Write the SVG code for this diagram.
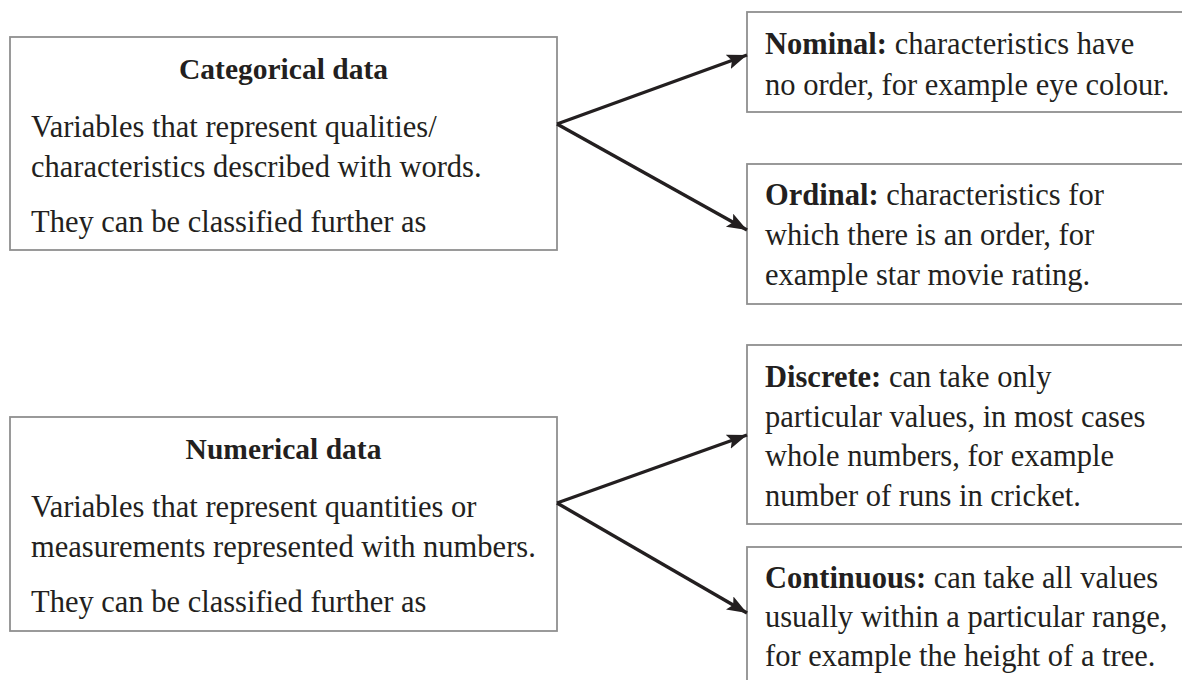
<svg xmlns="http://www.w3.org/2000/svg" width="1182" height="680" viewBox="0 0 1182 680">
<style>
.box{fill:#fff;stroke:#8f8f8f;stroke-width:1.8}
text{font-family:"Liberation Serif","Times New Roman",serif;font-size:30.5px;fill:#231f20}
.title{font-weight:bold;text-anchor:middle;font-size:29.5px}
.b{font-weight:bold}
.conn{fill:none;stroke:#231f20;stroke-width:3.4;stroke-linecap:butt}
</style>
<defs>
<marker id="ah" markerUnits="userSpaceOnUse" markerWidth="22" markerHeight="16" refX="20" refY="7.5" orient="auto">
<path d="M0,0 L20,7.5 L0,15 L4,7.5 z" fill="#231f20"/>
</marker>
</defs>
<rect width="1182" height="680" fill="#fff"/>
<g id="categorical">
<rect class="box" x="10" y="37" width="547" height="213"/>
<text class="title" x="283.5" y="79">Categorical data</text>
<text x="31" y="137">Variables that represent qualities/</text>
<text x="31" y="177">characteristics described with words.</text>
<text x="31" y="232">They can be classified further as</text>
</g>
<g id="nominal">
<rect class="box" x="747" y="12" width="460" height="100"/>
<text x="765" y="54"><tspan class="b">Nominal:</tspan> characteristics have</text>
<text x="765" y="95">no order, for example eye colour.</text>
</g>
<g id="ordinal">
<rect class="box" x="747" y="164" width="460" height="140"/>
<text x="765" y="205"><tspan class="b">Ordinal:</tspan> characteristics for</text>
<text x="765" y="245">which there is an order, for</text>
<text x="765" y="285">example star movie rating.</text>
</g>
<g id="numerical">
<rect class="box" x="10" y="417" width="547" height="214"/>
<text class="title" x="283.5" y="459">Numerical data</text>
<text x="31" y="517">Variables that represent quantities or</text>
<text x="31" y="557">measurements represented with numbers.</text>
<text x="31" y="612">They can be classified further as</text>
</g>
<g id="discrete">
<rect class="box" x="747" y="345" width="460" height="179"/>
<text x="765" y="387"><tspan class="b">Discrete:</tspan> can take only</text>
<text x="765" y="427">particular values, in most cases</text>
<text x="765" y="466">whole numbers, for example</text>
<text x="765" y="506">number of runs in cricket.</text>
</g>
<g id="continuous">
<rect class="box" x="747" y="547" width="460" height="160"/>
<text x="765" y="588"><tspan class="b">Continuous:</tspan> can take all values</text>
<text x="765" y="627">usually within a particular range,</text>
<text x="765" y="666">for example the height of a tree.</text>
</g>
<g id="connectors">
<path class="conn" d="M557,124 L747,55" marker-end="url(#ah)"/>
<path class="conn" d="M557,124 L747,230" marker-end="url(#ah)"/>
<path class="conn" d="M557,503 L747,435" marker-end="url(#ah)"/>
<path class="conn" d="M557,503 L747,613" marker-end="url(#ah)"/>
</g>
</svg>
